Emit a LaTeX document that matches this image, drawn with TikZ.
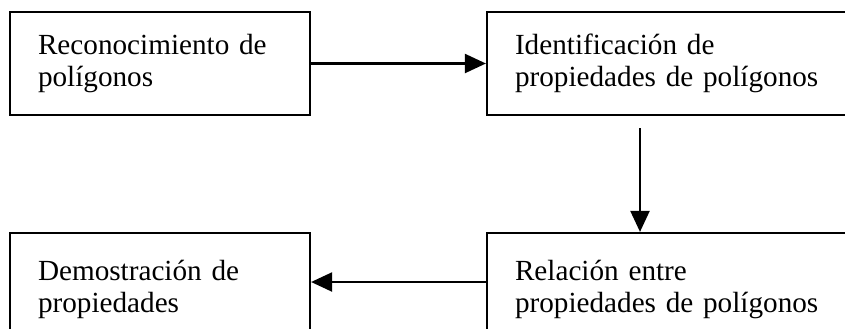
\documentclass[tikz,border=0pt]{standalone}
\usepackage{fontspec}
\setmainfont{Liberation Serif}
\usetikzlibrary{arrows.meta}

\tikzset{
  caja/.style={draw, line width=1.1pt, rectangle, align=left, inner xsep=14pt, inner ysep=0pt,
    font=\fontsize{14.6}{16}\selectfont},
  flecha/.style={-{Triangle[length=10.5pt,width=9.5pt]}, line width=1.1pt}
}

\begin{document}
\begin{tikzpicture}[x=0.5pt,y=-0.5pt]
\useasboundingbox (0,0) rectangle (845,328);
\clip (0,0) rectangle (845,328);

% fila de arriba
\node[caja, minimum width=150pt, minimum height=51.5pt, text width=122pt] (recon) at (160,63.5) {Reconocimiento de\\polígonos};
\node[caja, minimum width=190pt, minimum height=51.5pt, text width=162pt] (ident) at (677,63.5) {Identificación de\\propiedades de polígonos};

% fila de abajo
\node[caja, minimum width=150pt, minimum height=56.5pt, text width=122pt] (demo) at (160,289.5) {Demostración de\\propiedades};
\node[caja, minimum width=190pt, minimum height=56.5pt, text width=162pt] (relacion) at (677,289.5) {Relación entre\\propiedades de polígonos};

\draw[flecha] (recon) -- (ident);
\draw[flecha, shorten <=6pt] ([xshift=-18.5pt]ident.south) -- ([xshift=-18.5pt]relacion.north);
\draw[flecha] ([yshift=3.75pt]relacion.west) -- ([yshift=3.75pt]demo.east);

\end{tikzpicture}
\end{document}
